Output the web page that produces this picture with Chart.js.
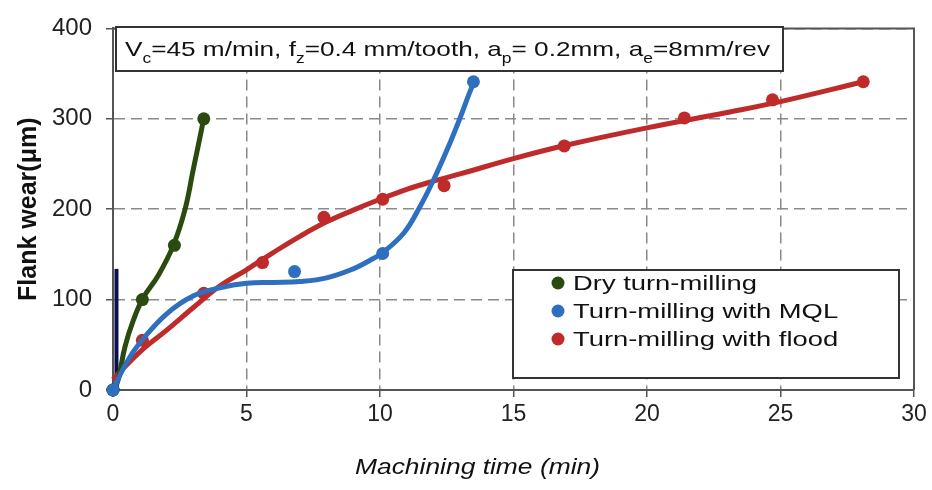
<!DOCTYPE html>
<html>
<head>
<meta charset="utf-8">
<script src="https://cdn.jsdelivr.net/npm/chart.js@4"></script>
<style>
  html, body { margin: 0; padding: 0; background: #fff; }
  canvas { display: block; }
</style>
</head>
<body>
<canvas id="wearChart" width="932" height="490"></canvas>
<script>
// measured points (the dots)
const dryTime = [0, 1.1, 2.3, 3.4];
const dryWear = [0, 100, 160, 300];
const mqlTime = [0, 6.8, 10.1, 13.5];
const mqlWear = [0, 131, 151, 341];
const floodTime = [1.1, 3.4, 5.6, 7.9, 10.1, 12.4, 16.9, 21.4, 24.7, 28.1];
const floodWear = [55, 107, 141, 191, 211, 226, 270, 301, 321, 341];

// fitted trend curves
const dryFitTime = [0.05, 0.2, 0.45, 0.76, 1.13, 1.7, 2.26, 2.7, 3.0, 3.26, 3.4];
const dryFitWear = [0, 12, 48, 77, 102, 127, 160, 200, 243, 280, 301];
const mqlFitTime = [0, 0.5, 1, 2, 3, 4, 5, 6, 7, 8, 9, 9.6, 10.1, 10.9, 11.5, 12, 12.56, 13, 13.37, 13.55];
const mqlFitWear = [0, 30, 52, 84, 104, 113, 118, 119, 120, 124, 134, 143, 152, 174, 203, 232, 269, 301, 330, 342];
const floodFitTime = [0, 1, 2, 3, 4, 5, 6, 7, 8, 9, 10, 11, 12, 13, 15, 17, 20, 23, 25, 28.1];
const floodFitWear = [12, 42, 66, 91, 115, 133, 152, 170, 186, 199, 211, 222, 231, 239, 256, 271, 290, 307, 319, 341];

// stray dark trace sitting on the y axis
const navyTime = [0.13, 0.13, 0.13];
const navyWear = [0, 100, 134];

const seriesNames = ['Dry turn-milling', 'Turn-milling with MQL', 'Turn-milling with flood'];
const seriesColors = ['#2b4a0f', '#2e6fbf', '#bf2a2a'];

const xTicks = [0, 5, 10, 15, 20, 25, 30];
const yTicks = [0, 100, 200, 300, 400];

// V_c=45 m/min ... as [text, isSubscript]
const noteParts = [['V', 0], ['c', 1], ['=45 m/min, f', 0], ['z', 1], ['=0.4 mm/tooth, a', 0],
  ['p', 1], ['= 0.2mm, a', 0], ['e', 1], ['=8mm/rev', 0]];

const FONT = '"Liberation Sans", Arial, sans-serif';

function pts(xs, ys) {
  return xs.map((x, i) => ({ x: x, y: ys[i] }));
}

function fitLine(label, xs, ys, color, order, width) {
  return {
    label: label, data: pts(xs, ys), showLine: true, borderColor: color, backgroundColor: color,
    borderWidth: width || 5, pointRadius: 0, tension: 0.4, order: order, clip: false
  };
}

function dots(label, xs, ys, color, order) {
  return {
    label: label, data: pts(xs, ys), showLine: false, backgroundColor: color, borderColor: color,
    borderWidth: 0, pointRadius: 6.5, order: order, clip: false
  };
}

// draw text squeezed/stretched to a given width
function fitText(ctx, text, x, y, width) {
  const w = ctx.measureText(text).width;
  ctx.save();
  ctx.translate(x, y);
  ctx.scale(width / w, 1);
  ctx.fillText(text, 0, 0);
  ctx.restore();
}

const overlay = {
  id: 'overlay',
  beforeDatasetsDraw(chart) {
    const { ctx, chartArea: a } = chart;
    ctx.save();
    ctx.strokeStyle = '#555';
    ctx.lineWidth = 2;
    ctx.beginPath();
    ctx.moveTo(a.left, a.top);
    ctx.lineTo(a.right, a.top);
    ctx.lineTo(a.right, a.bottom);
    ctx.stroke();
    ctx.restore();
  },
  afterDatasetsDraw(chart) {
    const ctx = chart.ctx;
    ctx.save();

    // parameter box
    ctx.fillStyle = '#fff';
    ctx.fillRect(116, 27, 667, 44);
    ctx.strokeStyle = '#333';
    ctx.lineWidth = 2;
    ctx.strokeRect(116, 27, 667, 44);

    const mainFont = '21px ' + FONT;
    const subFont = '14px ' + FONT;
    let total = 0;
    noteParts.forEach(p => {
      ctx.font = p[1] ? subFont : mainFont;
      total += ctx.measureText(p[0]).width;
    });
    const k = 645 / total;
    ctx.fillStyle = '#111';
    ctx.textBaseline = 'alphabetic';
    ctx.textAlign = 'left';
    ctx.translate(125, 0);
    ctx.scale(k, 1);
    let cx = 0;
    noteParts.forEach(p => {
      ctx.font = p[1] ? subFont : mainFont;
      ctx.fillText(p[0], cx, p[1] ? 63 : 56);
      cx += ctx.measureText(p[0]).width;
    });
    ctx.restore();

    // legend
    ctx.save();
    ctx.fillStyle = '#fff';
    ctx.fillRect(513, 270, 386, 108);
    ctx.strokeStyle = '#333';
    ctx.lineWidth = 2;
    ctx.strokeRect(513, 270, 386, 108);
    ctx.font = '21px ' + FONT;
    ctx.textBaseline = 'middle';
    ctx.textAlign = 'left';
    const ls = 184 / ctx.measureText(seriesNames[0]).width;
    const rows = [283, 311, 339];
    seriesNames.forEach((name, i) => {
      ctx.fillStyle = seriesColors[i];
      ctx.beginPath();
      ctx.arc(558, rows[i], 6.5, 0, Math.PI * 2);
      ctx.fill();
      ctx.fillStyle = '#111';
      fitText(ctx, name, 573, rows[i] + 1, ctx.measureText(name).width * ls);
    });

    // x axis title
    ctx.font = 'italic 22px ' + FONT;
    ctx.fillStyle = '#111';
    ctx.textAlign = 'left';
    ctx.textBaseline = 'middle';
    fitText(ctx, 'Machining time (min)', 355, 468, 245);
    ctx.restore();
  }
};

const ctx = document.getElementById('wearChart').getContext('2d');
const wearChart = new Chart(ctx, {
  type: 'scatter',
  data: {
    datasets: [
      fitLine('navy', navyTime, navyWear, '#0b0f4f', 4, 4),
      dots('navy', [0], [0], '#0b0f4f', 4),
      fitLine(seriesNames[2], floodFitTime, floodFitWear, seriesColors[2], 3),
      dots(seriesNames[2], floodTime, floodWear, seriesColors[2], 3),
      fitLine(seriesNames[0], dryFitTime, dryFitWear, seriesColors[0], 2),
      dots(seriesNames[0], dryTime, dryWear, seriesColors[0], 2),
      fitLine(seriesNames[1], mqlFitTime, mqlFitWear, seriesColors[1], 1),
      dots(seriesNames[1], mqlTime, mqlWear, seriesColors[1], 1)
    ]
  },
  options: {
    responsive: false,
    animation: false,
    layout: { padding: { top: 22, right: 18, left: 0, bottom: 0 } },
    plugins: {
      legend: { display: false },
      tooltip: { enabled: false }
    },
    scales: {
      x: {
        type: 'linear',
        min: 0,
        max: 30,
        afterBuildTicks: s => { s.ticks = xTicks.map(v => ({ value: v })); },
        afterFit: s => { s.height = 100; },
        ticks: { color: '#222', font: { family: FONT, size: 23 }, padding: 4, maxRotation: 0 },
        grid: { color: '#8a8a8a', lineWidth: 1.5, tickLength: 7, tickColor: '#555' },
        border: { display: true, color: '#555', width: 2, dash: [11, 6] }
      },
      y: {
        type: 'linear',
        min: 0,
        max: 400,
        afterBuildTicks: s => { s.ticks = yTicks.map(v => ({ value: v })); },
        afterFit: s => { s.width = 113; },
        ticks: { color: '#222', font: { family: FONT, size: 24 }, padding: 14 },
        grid: { color: '#8a8a8a', lineWidth: 1.5, tickLength: 7, tickColor: '#555' },
        border: { display: true, color: '#555', width: 2, dash: [11, 6] },
        title: {
          display: true,
          text: 'Flank wear(μm)',
          color: '#111',
          font: { family: FONT, size: 25, weight: 'bold' },
          padding: { top: 14, bottom: 0 }
        }
      }
    }
  },
  plugins: [overlay]
});
</script>
</body>
</html>
